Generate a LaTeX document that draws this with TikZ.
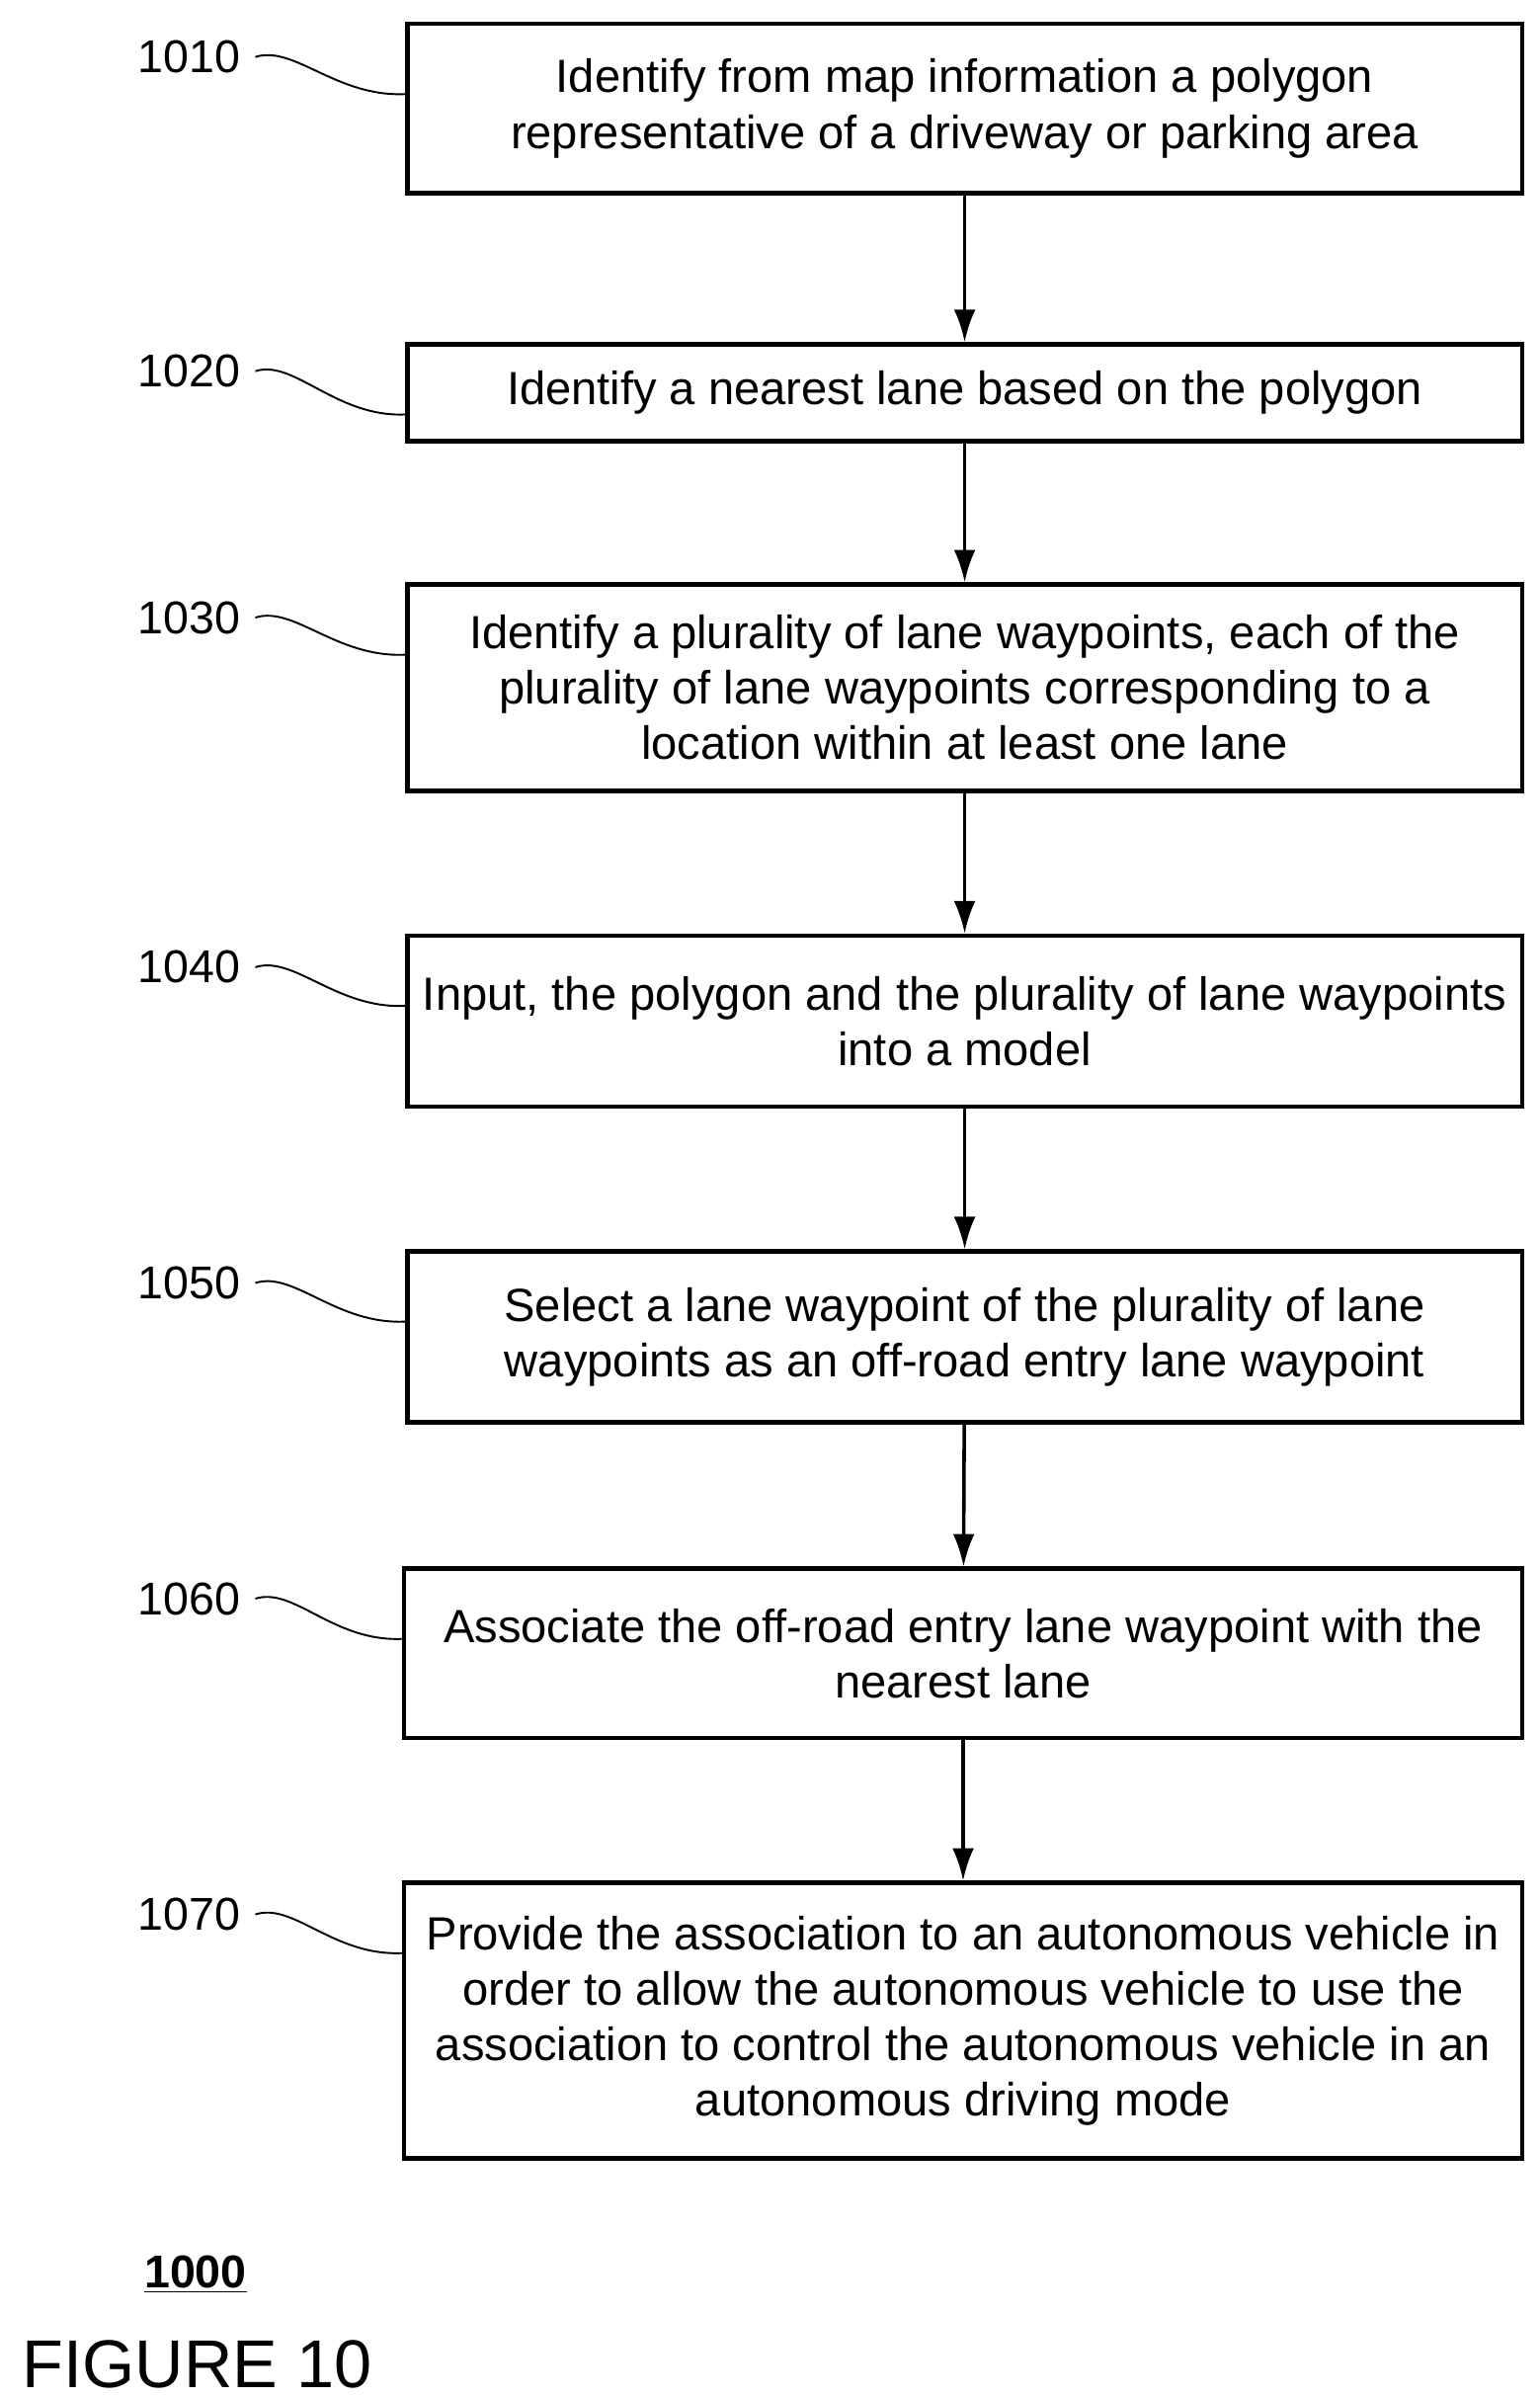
\documentclass[tikz,border=0pt]{standalone}
\usepackage{fontspec}
\setmainfont{Liberation Sans}
\usetikzlibrary{positioning, arrows.meta, calc}
\tikzset{
  stepbox/.style = {draw, line width=1.6pt, align=center, inner sep=2pt,
    font=\fontsize{17.2}{20.5}\selectfont},
  steplabel/.style = {font=\fontsize{17}{20}\selectfont, inner sep=1pt},
  arrow/.style = {line width=1.3pt, -{Latex[length=12pt,width=8pt]}},
  squiggle/.style = {line width=0.7pt}
}
\begin{document}
\begin{tikzpicture}[x=0.02cm, y=-0.02cm]
  \useasboundingbox (0,0) rectangle (1000,1557);

  % Steps
  \node[stepbox, minimum width=14.48cm, minimum height=2.2cm] (b1010) at (626.5,70.5)
    {Identify from map information a polygon\\representative of a driveway or parking area};
  \node[stepbox, minimum width=14.48cm, minimum height=1.26cm] (b1020) at (626.5,255)
    {Identify a nearest lane based on the polygon};
  \node[stepbox, minimum width=14.48cm, minimum height=2.68cm] (b1030) at (626.5,446.5)
    {Identify a plurality of lane waypoints, each of the\\plurality of lane waypoints corresponding to a\\location within at least one lane};
  \node[stepbox, minimum width=14.48cm, minimum height=2.22cm] (b1040) at (626.5,663)
    {Input, the polygon and the plurality of lane waypoints\\into a model};
  \node[stepbox, minimum width=14.48cm, minimum height=2.22cm] (b1050) at (626.5,868)
    {Select a lane waypoint of the plurality of lane\\waypoints as an off-road entry lane waypoint};
  \node[stepbox, minimum width=14.52cm, minimum height=2.2cm] (b1060) at (625.5,1073.5)
    {Associate the off-road entry lane waypoint with the\\nearest lane};
  \node[stepbox, minimum width=14.52cm, minimum height=3.58cm] (b1070) at (625.5,1312)
    {Provide the association to an autonomous vehicle in\\order to allow the autonomous vehicle to use the\\association to control the autonomous vehicle in an\\autonomous driving mode};

  % Arrows
  \draw[arrow] (b1010) -- (b1020);
  \draw[arrow] (b1020) -- (b1030);
  \draw[arrow] (b1030) -- (b1040);
  \draw[arrow] (b1040) -- (b1050);
  \draw[arrow] (b1050) -- (b1060);
  \draw[arrow] (b1060) -- (b1070);

  % Reference numerals
  \foreach \n/\y in {1010/37, 1020/241, 1030/401, 1040/628, 1050/833, 1060/1038, 1070/1243} {
    \node[steplabel] (l\n) at (123,\y) {\n};
    \coordinate (e\n) at ($(b\n.north west)+(0,47)$);
    \draw[squiggle] ([xshift=0.15cm]l\n.east) .. controls +(25,-8) and +(-45,2) .. (e\n);
  }

  % Caption
  \node[font=\fontsize{17}{20}\selectfont\bfseries] (fignum) at (127,1477) {\underline{1000}};
  \node[font=\fontsize{25}{30}\selectfont] (figname) at (128,1535) {FIGURE 10};
\end{tikzpicture}
\end{document}
